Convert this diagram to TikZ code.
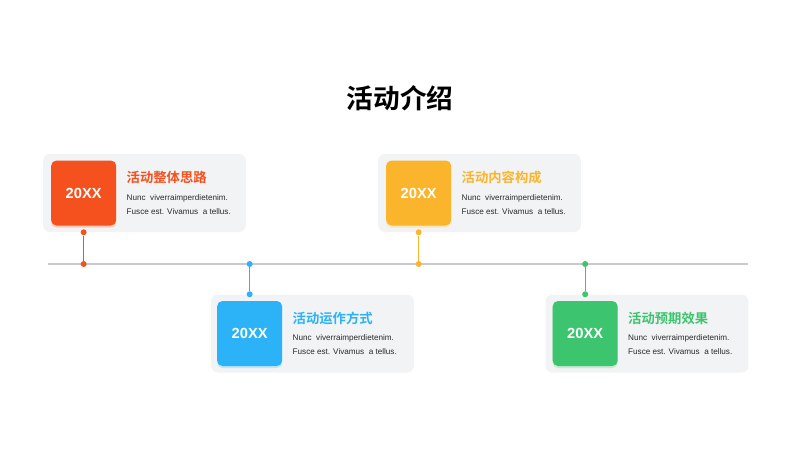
\documentclass[tikz,border=0pt]{standalone}
\usepackage{fontspec}
\setmainfont{Liberation Sans}
\newfontfamily\cjk{Noto Sans CJK SC}[BoldFont={Noto Sans CJK SC Bold}]
\usetikzlibrary{positioning,shadows}

\definecolor{corange}{HTML}{F4511E}
\definecolor{cblue}{HTML}{2BB2F7}
\definecolor{cyellow}{HTML}{FBB52C}
\definecolor{cgreen}{HTML}{3CC46E}
\definecolor{cardgrey}{HTML}{F2F3F5}
\definecolor{linegrey}{HTML}{C9CACF}
\definecolor{txtgrey}{HTML}{2A2A2A}

\begin{document}
\begin{tikzpicture}[x=0.75pt,y=-0.75pt,
  card/.style={fill=cardgrey, rounded corners=5pt, minimum width=152pt, minimum height=58.5pt, inner sep=0pt},
  yr/.style={fill=#1, rounded corners=4pt, minimum width=48.75pt, minimum height=48.75pt, inner sep=0pt,
    text=white, font=\bfseries\fontsize{11}{13}\selectfont,
    drop shadow={shadow xshift=0pt, shadow yshift=-1.5pt, fill=#1!45, opacity=0.6}},
  ttl/.style={text=#1, font=\cjk\bfseries\fontsize{10}{12}\selectfont, anchor=west, inner sep=0pt},
  txt/.style={text=txtgrey, font=\fontsize{6.1}{10.5}\selectfont, align=left, anchor=north west, inner sep=0pt},
  dot/.style={circle, fill=#1, inner sep=0pt, minimum size=4.5pt},
  conn/.style={draw=#1, line width=1pt}]
  \useasboundingbox (0,0) rectangle (800,450);

  \node[font=\cjk\bfseries\fontsize{20}{24}\selectfont] (hd) at (400,98) {活动介绍};

  % timeline
  \coordinate (tl0) at (48,264);
  \coordinate (tl1) at (748,264);
  \draw[linegrey, line width=1.1pt] (tl0) -- (tl1);

  % cards
  \node[card] (c1) at (144.5,193) {};
  \node[yr=corange, right=6pt of c1.west, anchor=west] (y1) {20XX};
  \node[ttl=corange] (t1) at ([xshift=7.5pt,yshift=11.5pt]y1.east) {活动整体思路};
  \node[txt] (b1) at ([xshift=7.5pt,yshift=-1pt]y1.east) {Nunc\ \ viverraimperdietenim.\\Fusce est. Vivamus\ \ a tellus.};

  \node[card] (c2) at (312.5,333.5) {};
  \node[yr=cblue, right=4.5pt of c2.west, anchor=west] (y2) {20XX};
  \node[ttl=cblue] (t2) at ([xshift=7.5pt,yshift=11.5pt]y2.east) {活动运作方式};
  \node[txt] (b2) at ([xshift=7.5pt,yshift=-1pt]y2.east) {Nunc\ \ viverraimperdietenim.\\Fusce est. Vivamus\ \ a tellus.};

  \node[card] (c3) at (479.5,193) {};
  \node[yr=cyellow, right=6pt of c3.west, anchor=west] (y3) {20XX};
  \node[ttl=cyellow] (t3) at ([xshift=7.5pt,yshift=11.5pt]y3.east) {活动内容构成};
  \node[txt] (b3) at ([xshift=7.5pt,yshift=-1pt]y3.east) {Nunc\ \ viverraimperdietenim.\\Fusce est. Vivamus\ \ a tellus.};

  \node[card] (c4) at (647,333.5) {};
  \node[yr=cgreen, right=5.25pt of c4.west, anchor=west] (y4) {20XX};
  \node[ttl=cgreen] (t4) at ([xshift=7.5pt,yshift=11.5pt]y4.east) {活动预期效果};
  \node[txt] (b4) at ([xshift=7.5pt,yshift=-1pt]y4.east) {Nunc\ \ viverraimperdietenim.\\Fusce est. Vivamus\ \ a tellus.};

  % dots and connectors
  \node[dot=corange] (p1) at (y1.center |- c1.south) {};
  \node[dot=corange] (q1) at (y1.center |- tl0) {};
  \draw[conn=corange] (p1) -- (q1);
  \node[dot=cblue] (p2) at (y2.center |- c2.north) {};
  \node[dot=cblue] (q2) at (y2.center |- tl0) {};
  \draw[conn=cblue] (p2) -- (q2);
  \node[dot=cyellow] (p3) at (y3.center |- c3.south) {};
  \node[dot=cyellow] (q3) at (y3.center |- tl0) {};
  \draw[conn=cyellow] (p3) -- (q3);
  \node[dot=cgreen] (p4) at (y4.center |- c4.north) {};
  \node[dot=cgreen] (q4) at (y4.center |- tl0) {};
  \draw[conn=cgreen] (p4) -- (q4);
\end{tikzpicture}
\end{document}
